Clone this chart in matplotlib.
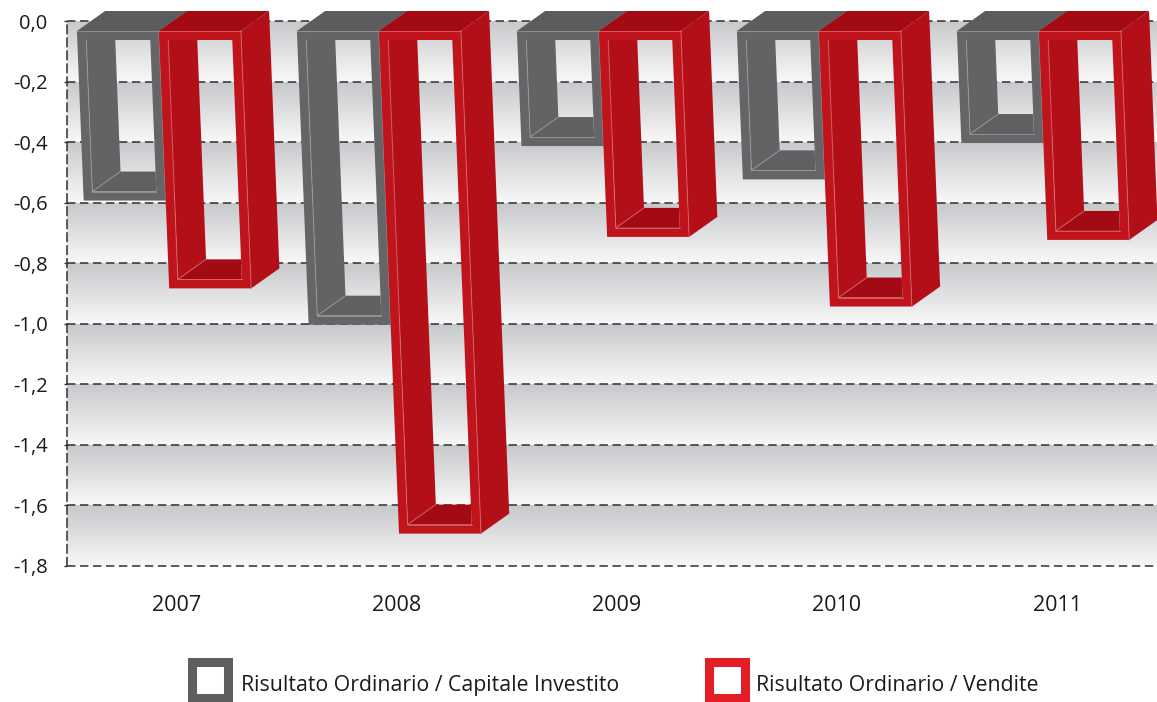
import numpy as np
import matplotlib
matplotlib.use("Agg")
import matplotlib.pyplot as plt
from matplotlib.patches import Polygon, PathPatch, Rectangle
from matplotlib.path import Path

# ratios per year
years = ["2007", "2008", "2009", "2010", "2011"]
capitale_investito = [-0.56, -0.97, -0.38, -0.49, -0.37]
vendite = [-0.85, -1.66, -0.68, -0.91, -0.69]
series_labels = ["Risultato Ordinario / Capitale Investito", "Risultato Ordinario / Vendite"]
y_ticks = [0.0, -0.2, -0.4, -0.6, -0.8, -1.0, -1.2, -1.4, -1.6, -1.8]

plt.rcParams["font.family"] = ["Open Sans", "DejaVu Sans"]

W, H = 1157, 702
fig = plt.figure(figsize=(W / 100, H / 100), dpi=100)
ax = fig.add_axes([67 / W, 1 - 566 / H, 1100 / W, 545 / H])

# banded background: each 0.2 band fades from grey to near white
n_band = 9
rows = 60
frac = np.tile(np.linspace(0, 1, rows), n_band)
c_top = np.array([0.784, 0.788, 0.800])
c_bot = np.array([0.972, 0.972, 0.972])
img = c_top + (c_bot - c_top) * frac[:, None]
ax.imshow(img[:, None, :], extent=(-0.5, 4.5, -1.8, 0), aspect="auto",
          interpolation="nearest", zorder=0)
ax.set_xlim(-0.5, 4.5)
ax.set_ylim(-1.8, 0)

ax.hlines(y_ticks, -0.5, 4.5, colors="#2f2f2f", linewidth=1.1,
          linestyles=(0, (5.5, 3)), zorder=1, clip_on=False)
for side in ("top", "right", "bottom"):
    ax.spines[side].set_visible(False)
ax.spines["left"].set_linestyle((0, (5.5, 3)))
ax.spines["left"].set_color("#2f2f2f")
ax.spines["left"].set_linewidth(1.1)

ax.set_yticks(y_ticks)
ax.set_yticklabels([f"{v:.1f}".replace(".", ",") for v in y_ticks])
ax.set_xticks(range(len(years)))
ax.set_xticklabels(years)
ax.tick_params(axis="y", length=2.5, width=1, color="#2f2f2f", pad=11.5,
               labelsize=14.5, labelcolor="#1a1a1a")
ax.tick_params(axis="x", length=0, pad=21, labelsize=15.5, labelcolor="#1a1a1a")

# pixel scales so the 3D offsets can be given in screen pixels
px_x = ax.bbox.width / 5
px_y = ax.bbox.height / 1.8

DEPTH = (29, 20)   # back face offset: right and up
LEAN = 0.040       # horizontal drift per pixel of drop
RIM = 9            # frame thickness
BAR_W = 82 / px_x
NUDGE = -4 / px_x


def pt(x, y, ox, oy, back):
    s = 0.5 if back else -0.5
    xd = x + (ox + s * DEPTH[0]) / px_x
    yd = y + (oy + s * DEPTH[1]) / px_y
    xd += LEAN * (-yd) * px_y / px_x
    return (xd, yd)


def frame_bar(x0, v, front, side, top, floor, line, z):
    x1 = x0 + BAR_W
    # outer corners, front and back
    fTL, fTR = pt(x0, 0, 0, 0, False), pt(x1, 0, 0, 0, False)
    fBL, fBR = pt(x0, v, 0, 0, False), pt(x1, v, 0, 0, False)
    bTL, bTR, bBR = pt(x0, 0, 0, 0, True), pt(x1, 0, 0, 0, True), pt(x1, v, 0, 0, True)
    # inner corners of the opening
    iTL, iTR = pt(x0, 0, RIM, -RIM, False), pt(x1, 0, -RIM, -RIM, False)
    iBL, iBR = pt(x0, v, RIM, RIM, False), pt(x1, v, -RIM, RIM, False)
    jTL = pt(x0, 0, RIM, -RIM, True)
    jBL, jBR = pt(x0, v, RIM, RIM, True), pt(x1, v, -RIM, RIM, True)

    kw = dict(linewidth=0, clip_on=False, zorder=z)
    ax.add_patch(Polygon([fTL, fTR, bTR, bTL], facecolor=top, **kw))
    ax.add_patch(Polygon([fTR, fBR, bBR, bTR], facecolor=side, **kw))

    hole = Polygon([iTL, iTR, iBR, iBL], transform=ax.transData)
    wall = Polygon([iTL, iBL, jBL, jTL], facecolor=side, linewidth=0, zorder=z)
    base = Polygon([iBL, iBR, jBR, jBL], facecolor=floor, linewidth=0, zorder=z)
    for p in (wall, base):
        ax.add_patch(p)
        p.set_clip_path(hole)

    verts = [fTL, fTR, fBR, fBL, fTL, iTL, iBL, iBR, iTR, iTL]
    codes = [Path.MOVETO, Path.LINETO, Path.LINETO, Path.LINETO, Path.CLOSEPOLY,
             Path.MOVETO, Path.LINETO, Path.LINETO, Path.LINETO, Path.CLOSEPOLY]
    ax.add_patch(PathPatch(Path(verts, codes), facecolor=front, **kw))

    # light creases along the edges
    lk = dict(color=line, linewidth=0.7, alpha=0.8, clip_on=False, zorder=z)
    for a, b in ((iTL, iBL), (iBL, iBR), (iBL, jBL), (fTR, fBR), (fTL, fTR)):
        ax.plot([a[0], b[0]], [a[1], b[1]], **lk)


gray = dict(front="#656567", side="#636365", top="#5c5c5e", floor="#606062", line="#9c9c9e")
red = dict(front="#c0141d", side="#b20f18", top="#a30a12", floor="#a30a13", line="#dd6a6f")

for i in range(len(years)):
    frame_bar(i - BAR_W + NUDGE, capitale_investito[i], z=3 + 2 * i, **gray)
    frame_bar(i + NUDGE, vendite[i], z=4 + 2 * i, **red)

# legend drawn as hollow squares with text
for x_sq, col, x_txt, label in ((191.5, "#5f5f61", 241, series_labels[0]),
                                (708.5, "#e41e26", 756, series_labels[1])):
    fig.add_artist(Rectangle((x_sq / W, 1 - 697.5 / H), 36 / W, 36 / H,
                             transform=fig.transFigure, facecolor="white",
                             edgecolor=col, linewidth=6.5))
    fig.text(x_txt / W, 1 - 691 / H, label, fontsize=15.3, color="#1a1a1a",
             ha="left", va="baseline")

fig.savefig("out.png", dpi=100)
